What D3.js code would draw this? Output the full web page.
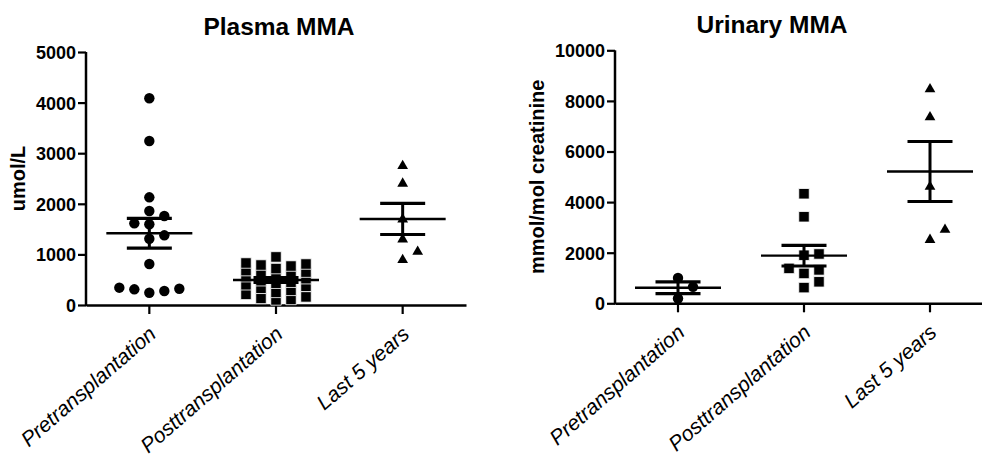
<!DOCTYPE html>
<html><head><meta charset="utf-8">
<script src="https://cdn.jsdelivr.net/npm/d3@7"></script>
<style>
html,body{margin:0;padding:0;background:#fff;}
svg text{font-family:"Liberation Sans",Arial,sans-serif;fill:#000;}
</style></head>
<body><svg id="c" width="982" height="458"></svg>
<script>
const categories = ["Pretransplantation", "Posttransplantation", "Last 5 years"];
const plasmaTicks = [0, 1000, 2000, 3000, 4000, 5000];
const urinaryTicks = [0, 2000, 4000, 6000, 8000, 10000];
// Plasma MMA (umol/L)
const plasmaPre = [4085, 3241, 2128, 1858, 1759, 1614, 1595, 1377, 1310, 810, 342, 322, 310, 277, 243];
const plasmaPost = [950, 830, 810, 790, 770, 720, 680, 650, 630, 610, 590, 560, 520, 480, 450, 430, 400, 370, 330, 290, 250, 210, 160, 130, 110, 100];
const plasmaLast = [2770, 2420, 1713, 1318, 1073, 909];
// Urinary MMA (mmol/mol creatinine)
const urinaryPre = [1000, 650, 190];
const urinaryPost = [4330, 3420, 1950, 1900, 1380, 1320, 1180, 850, 620];
const urinaryLast = [8500, 7400, 4650, 2950, 2550];

const svg = d3.select("#c");
const shapes = [d3.symbolCircle, d3.symbolSquare, d3.symbolTriangle];
const symSize = [85, 110, 50];

function panel(opt){
  const g = svg.append("g");
  const x = d3.scaleBand().domain(categories).range([opt.x0, opt.x1]);
  const y = d3.scaleLinear().domain([0, opt.ymax]).range([opt.yb, opt.yt]);
  // axes
  const ya = g.append("g").attr("transform", `translate(${opt.x0},0)`)
    .call(d3.axisLeft(y).tickValues(opt.ticks).tickFormat(d3.format("d")).tickSize(8).tickPadding(2).tickSizeOuter(0));
  ya.select(".domain").attr("stroke-width", 2.5).attr("d", `M0,${opt.yb+1}V${opt.yt}`);
  ya.selectAll(".tick line").attr("stroke-width", 2.2);
  ya.selectAll(".tick text").attr("font-size", 18).attr("font-weight", "bold").attr("dy", "0.36em");
  const xa = g.append("g").attr("transform", `translate(0,${opt.yb})`)
    .call(d3.axisBottom(x).tickSize(9).tickSizeOuter(0));
  xa.select(".domain").attr("stroke-width", 2.5);
  xa.selectAll(".tick line").attr("stroke-width", 2.2);
  xa.selectAll(".tick text").attr("font-size", 21).attr("font-style", "italic")
    .attr("text-anchor", "end").attr("dy", null)
    .attr("transform", "translate(8,31) rotate(-41)").attr("y", 0).attr("x", 0);
  // titles
  g.append("text").attr("x", opt.tx).attr("y", opt.ty).attr("text-anchor", "middle")
    .attr("font-size", 24.5).attr("font-weight", "bold").text(opt.title);
  g.append("text").attr("transform", `translate(${opt.lx},${(opt.yb+opt.yt)/2}) rotate(-90)`)
    .attr("text-anchor", "middle").attr("font-size", 20).attr("font-weight", "bold").text(opt.ylabel);
  // points (simple beeswarm spread around the category centre, placed in ascending order)
  opt.data.forEach((vals, i) => {
    const cx = x(categories[i]) + x.bandwidth()/2;
    const placed = [];
    const step = 15, thr = i === 1 ? 9 : 12, maxK = i === 1 ? 2 : 3;
    const pts = vals.slice().sort(d3.ascending).map(v => {
      const py = y(v);
      const cands = [0];
      for (let k = 1; k <= maxK; k++) { cands.push(k*step, -k*step); }
      let best = null, bestD = -1;
      for (const o of cands) {
        let md = Infinity;
        placed.forEach(p => { if (p.o === o) md = Math.min(md, Math.abs(p.y - py)); });
        if (md >= thr) { best = o; bestD = md; break; }
        if (md > bestD) { bestD = md; best = o; }
      }
      const p = {o: best, y: py};
      placed.push(p);
      return p;
    });
    g.append("g").selectAll("path").data(pts).join("path")
      .attr("d", d3.symbol().type(shapes[i]).size(symSize[i]))
      .attr("transform", d => `translate(${cx + d.o},${d.y + (i===2?1:0)})`)
      .attr("fill", "#000")
      .attr("stroke", i === 1 ? "#fff" : "none").attr("stroke-width", 0.8);
    const m = d3.mean(vals);
    const sem = d3.deviation(vals) / Math.sqrt(vals.length);
    const eb = g.append("g").attr("stroke", "#000").attr("fill", "none");
    eb.append("line").attr("x1", cx-43).attr("x2", cx+43).attr("y1", y(m)).attr("y2", y(m)).attr("stroke-width", 2.4);
    eb.append("line").attr("x1", cx).attr("x2", cx).attr("y1", y(m+sem)).attr("y2", y(m-sem)).attr("stroke-width", 3);
    [m+sem, m-sem].forEach(v => eb.append("line").attr("x1", cx-22.5).attr("x2", cx+22.5)
      .attr("y1", y(v)).attr("y2", y(v)).attr("stroke-width", 3.2));
  });
}

panel({x0: 86, x1: 466, yb: 305, yt: 52, ymax: 5000, ticks: plasmaTicks,
  title: "Plasma MMA", tx: 279, ty: 35, ylabel: "umol/L", lx: 25,
  data: [plasmaPre, plasmaPost, plasmaLast]});
panel({x0: 615, x1: 993, yb: 303.3, yt: 50.3, ymax: 10000, ticks: urinaryTicks,
  title: "Urinary MMA", tx: 772, ty: 33, ylabel: "mmol/mol creatinine", lx: 544,
  data: [urinaryPre, urinaryPost, urinaryLast]});
</script></body></html>
